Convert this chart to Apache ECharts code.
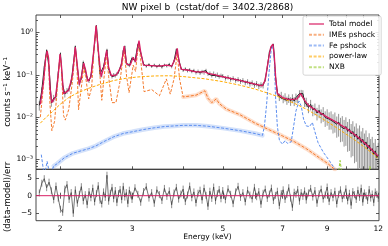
<!DOCTYPE html>
<html><head><meta charset="utf-8">
<script src="https://cdn.jsdelivr.net/npm/echarts@6/dist/echarts.min.js"></script>
<style>html,body{margin:0;padding:0;background:#fff}#c{width:388px;height:246px}</style>
</head><body><div id="c"></div>
<script>
// ---------- data ----------
const titleText = 'NW pixel b  (cstat/dof = 3402.3/2868)';
const xTickVals = [2,3,4,5,6,7,8,9,10,11,12];
const xLabelVals = [2,3,5,7,9,12];
const yMajorVals = [0.001,0.01,0.1,1];
const yMinorVals = [6e-4,7e-4,8e-4,9e-4,2e-3,3e-3,4e-3,5e-3,6e-3,7e-3,8e-3,9e-3,0.02,0.03,0.04,0.05,0.06,0.07,0.08,0.09,0.2,0.3,0.4,0.5,0.6,0.7,0.8,0.9,2];
const rTickVals = [-5,0,5];
const legendNames = ['Total model','IMEs pshock','Fe pshock','power-law','NXB'];

const totalE = [1.79,1.82,1.845,1.86,1.875,1.89,1.91,1.95,1.98,2.00,2.015,2.04,2.10,2.145,2.18,2.20,2.23,2.26,2.285,2.31,2.34,2.38,2.42,2.45,2.48,2.52,2.56,2.60,2.63,2.67,2.75,2.82,2.87,2.91,2.97,3.02,3.06,3.09,3.12,3.15,3.20,3.35,3.50,3.64,3.68,3.75,3.83,3.87,3.91,3.96,4.10,4.30,4.52,4.60,4.70,4.80,5.0,5.5,6.0,6.25,6.35,6.45,6.55,6.63,6.68,6.74,6.80,7.0,7.3,7.6,7.75,7.82,7.90,8.1,8.5,9.0,9.5,10,10.5,11,11.5,12];
const totalV = [0.020,0.06,0.25,0.37,0.25,0.05,0.022,0.030,0.10,0.31,0.18,0.036,0.043,0.10,0.45,0.20,0.058,0.10,0.19,0.13,0.07,0.09,0.40,1.45,0.40,0.09,0.15,0.38,0.15,0.095,0.10,0.16,0.48,0.18,0.17,0.26,0.20,0.40,0.64,0.35,0.17,0.165,0.16,0.17,0.175,0.16,0.25,0.42,0.20,0.135,0.13,0.118,0.118,0.108,0.104,0.100,0.090,0.074,0.060,0.055,0.075,0.20,0.45,0.53,0.30,0.08,0.036,0.029,0.026,0.027,0.036,0.040,0.026,0.019,0.014,0.0100,0.0075,0.0055,0.0039,0.0027,0.0018,0.0012];

const imesE = [1.79,1.82,1.845,1.86,1.875,1.89,1.91,1.94,1.98,2.00,2.015,2.04,2.06,2.10,2.145,2.18,2.20,2.22,2.24,2.26,2.285,2.31,2.35,2.39,2.42,2.45,2.48,2.53,2.56,2.60,2.63,2.68,2.74,2.80,2.87,2.91,2.95,3.02,3.06,3.09,3.12,3.15,3.21,3.35,3.50,3.64,3.72,3.80,3.87,3.92,4.00,4.30,4.52,4.60,4.70,4.82,4.90,5.10,5.5,6.0,6.5,7.0,7.5,8.0,8.5,9.0,9.4];
const imesV = [0.010,0.05,0.23,0.35,0.23,0.02,0.0048,0.008,0.09,0.29,0.15,0.011,0.0085,0.015,0.07,0.41,0.15,0.015,0.030,0.06,0.15,0.09,0.027,0.05,0.35,1.38,0.35,0.025,0.08,0.31,0.09,0.022,0.022,0.065,0.40,0.09,0.038,0.17,0.12,0.30,0.55,0.22,0.040,0.045,0.032,0.080,0.035,0.08,0.33,0.08,0.030,0.033,0.042,0.028,0.022,0.027,0.021,0.0155,0.0115,0.0072,0.0050,0.0036,0.0026,0.0018,0.0012,0.00082,0.00058];

const feE = [1.80,1.83,1.86,1.89,1.93,1.97,2.05,2.15,2.25,2.35,2.45,2.55,2.70,2.85,3.00,3.20,3.40,3.60,3.80,4.00,4.30,4.60,5.00,5.50,6.00,6.25,6.32,6.40,6.48,6.56,6.63,6.68,6.73,6.80,6.88,7.00,7.10,7.20,7.35,7.45,7.55,7.68,7.78,7.88,8.00,8.15,8.28,8.40,8.55,8.80,9.10,9.40];
const feV = [0.0013,0.0004,0.0009,0.0004,0.0007,0.0008,0.0011,0.0014,0.0016,0.0018,0.0021,0.0026,0.0034,0.0041,0.0045,0.0051,0.0056,0.0060,0.0062,0.0064,0.0064,0.0061,0.0055,0.0048,0.0041,0.0037,0.006,0.02,0.10,0.35,0.50,0.25,0.03,0.006,0.0028,0.0023,0.0028,0.0024,0.0026,0.006,0.014,0.024,0.018,0.009,0.0062,0.0060,0.0075,0.0045,0.0025,0.0015,0.00095,0.0006];

const plE = [1.79,1.8,1.85,1.9,2.0,2.1,2.2,2.35,2.5,2.7,2.9,3.1,3.4,3.7,4.0,4.5,5.0,5.5,6.0,6.5,7.0,7.5,8.0,8.5,9.0,9.5,10,10.5,11,11.5,12];
const plV = [0.0072,0.0076,0.0100,0.0125,0.020,0.029,0.037,0.048,0.059,0.073,0.083,0.089,0.094,0.095,0.091,0.081,0.069,0.057,0.046,0.036,0.028,0.021,0.0155,0.011,0.0078,0.0056,0.0040,0.0029,0.0021,0.0015,0.00105];

const nxbE = [8.0,9.55,9.62,9.68,9.74,9.80,11.30,11.40,11.45,11.50,11.60,12.0];
const nxbV = [0.0002,0.00025,0.0006,0.00095,0.0006,0.00025,0.0002,0.0005,0.00068,0.0005,0.0002,0.0002];

const binE = [1.780,1.805,1.830,1.855,1.880,1.905,1.930,1.955,1.980,2.005,2.030,2.055,2.080,2.105,2.130,2.155,2.180,2.205,2.230,2.255,2.280,2.305,2.330,2.355,2.380,2.405,2.430,2.455,2.480,2.505,2.530,2.555,2.580,2.605,2.630,2.655,2.680,2.705,2.730,2.755,2.780,2.805,2.830,2.855,2.880,2.905,2.930,2.955,2.980,
 3.00,3.05,3.10,3.15,3.20,3.25,3.30,3.35,3.40,3.45,3.50,3.55,3.60,3.65,3.70,3.75,3.80,3.85,3.90,3.95,4.00,4.05,4.10,4.15,4.20,4.25,4.30,4.35,4.40,4.45,4.50,4.55,4.60,4.65,4.70,4.75,4.80,4.85,4.90,4.95,
 5.000,5.075,5.150,5.225,5.300,5.375,5.450,5.525,5.600,5.675,5.750,5.825,5.900,5.975,6.050,6.125,6.200,6.275,6.350,6.425,6.500,6.575,6.650,6.725,6.800,6.875,6.950,7.025,7.100,7.175,7.250,7.325,7.400,7.475,7.550,7.625,7.700,7.775,7.850,7.925,
 8.0,8.1,8.2,8.3,8.4,8.5,8.6,8.7,8.8,8.9,9.0,9.1,9.2,9.3,9.4,9.5,9.6,9.7,9.8,9.9,10.0,10.1,10.2,10.3,10.4,10.5,10.6,10.7,10.8,10.9,11.0,11.1,11.2,11.3,11.4,11.5,11.6,11.7,11.8,11.9,12.0];
const dataV = [0.019,0.043,0.15,0.38,0.15,0.022,0.028,0.030,0.11,0.32,0.058,0.035,0.042,0.047,0.068,0.17,0.47,0.15,0.061,0.085,0.20,0.13,0.083,0.072,0.094,0.21,0.57,1.45,0.38,0.105,0.096,0.155,0.25,0.39,0.14,0.105,0.091,0.10,0.096,0.105,0.115,0.145,0.19,0.37,0.47,0.19,0.175,0.165,0.21,
 0.25,0.21,0.52,0.33,0.18,0.16,0.175,0.158,0.17,0.155,0.168,0.152,0.17,0.162,0.178,0.155,0.21,0.40,0.24,0.145,0.128,0.138,0.125,0.132,0.12,0.127,0.113,0.121,0.11,0.119,0.112,0.126,0.105,0.109,0.097,0.108,0.096,0.102,0.091,0.096,
 0.094,0.083,0.088,0.078,0.083,0.074,0.078,0.070,0.074,0.065,0.069,0.061,0.065,0.057,0.062,0.054,0.058,0.056,0.078,0.15,0.34,0.46,0.52,0.095,0.038,0.030,0.033,0.027,0.030,0.025,0.028,0.024,0.028,0.024,0.029,0.027,0.036,0.037,0.036,0.023,
 0.023,0.017,0.020,0.015,0.016,0.0125,0.0145,0.0112,0.0125,0.0098,0.0108,0.0090,0.0094,0.0079,0.0086,0.0068,0.0077,0.0061,0.0066,0.0053,0.0060,0.0046,0.0053,0.0040,0.0046,0.0034,0.0040,0.0030,0.0035,0.0025,0.0030,0.0022,0.0026,0.0018,0.0022,0.0016,0.0018,0.0013,0.0016,0.0011,0.0013];
const dataErr = [0.25,0.18,0.10,0.06,0.09,0.2,0.2,0.18,0.1,0.06,0.14,0.17,0.16,0.15,0.12,0.09,0.05,0.09,0.13,0.11,0.08,0.09,0.11,0.11,0.10,0.07,0.05,0.03,0.05,0.10,0.10,0.08,0.07,0.06,0.08,0.10,0.10,0.10,0.10,0.10,0.09,0.08,0.07,0.05,0.05,0.07,0.08,0.08,0.07,
 0.07,0.07,0.05,0.06,0.08,0.08,0.08,0.08,0.08,0.08,0.08,0.08,0.08,0.08,0.08,0.08,0.07,0.05,0.07,0.09,0.09,0.09,0.09,0.09,0.09,0.09,0.10,0.10,0.10,0.10,0.10,0.10,0.10,0.10,0.11,0.11,0.11,0.11,0.11,0.11,
 0.11,0.12,0.12,0.12,0.12,0.12,0.13,0.13,0.13,0.13,0.14,0.14,0.14,0.14,0.15,0.15,0.15,0.15,0.13,0.08,0.06,0.05,0.05,0.09,0.18,0.2,0.2,0.21,0.22,0.22,0.23,0.23,0.24,0.24,0.24,0.22,0.2,0.19,0.2,0.24,
 0.25,0.27,0.28,0.3,0.31,0.33,0.35,0.36,0.38,0.4,0.42,0.44,0.46,0.48,0.5,0.52,0.55,0.58,0.6,0.62,0.65,0.67,0.7,0.72,0.74,0.76,0.78,0.8,0.82,0.84,0.85,0.86,0.87,0.88,0.89,0.9,0.9,0.9,0.9,0.9,0.9];
const resid = [0.8,3.6,4.9,2.3,3.9,1.4,-1.2,2.8,-0.7,-3.9,-4.8,1.9,3.2,-1.1,0.9,-5.1,1.7,-2.2,0.4,2.6,-1.5,0.3,-2.6,1.2,-0.6,2.2,-1.8,0.6,2.9,-1.3,-2.4,1.1,-0.5,5.9,-1.6,0.7,2.4,-0.9,1.5,-2.0,0.6,1.8,-1.2,2.7,-0.4,0.9,-2.3,1.6,0.2,
 -1.1,2.3,0.4,-1.9,1.2,2.6,-0.7,0.9,-2.2,1.7,0.3,-1.4,2.1,-0.2,1.4,-2.6,0.8,2.4,-1.0,0.5,1.9,-1.7,0.2,2.8,-0.6,1.1,-2.1,0.7,1.6,-1.3,2.2,0.1,-3.1,1.3,-0.8,2.5,-1.5,0.6,1.8,-0.9,
 1.5,-1.2,2.0,0.4,-2.3,1.1,2.7,-0.5,0.9,-1.8,1.6,0.2,-1.0,2.4,-0.3,1.2,-2.5,0.7,1.9,-0.8,0.5,2.2,-1.4,0.1,1.3,-2.9,0.6,1.7,-1.1,0.3,2.3,-0.7,-3.4,1.0,0.4,1.8,-1.6,0.9,-0.2,1.4,
 -1.3,0.8,2.1,-0.4,1.5,-2.2,0.6,1.9,-1.0,0.2,2.5,-1.7,0.9,-0.6,1.3,-2.4,0.4,1.7,-0.9,0.1,2.0,-1.5,0.7,-2.8,1.2,0.3,-1.1,1.6,-0.5,2.2,-1.9,0.8,0.0,-1.4,1.8,-0.7,0.5,-2.0,1.1,0.4,-0.8];

// ---------- chart ----------
const FONT = 'DejaVu Sans';
const X0 = 1.747, X1 = 12.05, Y0 = 5.86e-4, Y1 = 2.59, R0 = -7.2, R1 = 7.6;
const zip = (a, b) => a.map((v, i) => [v, b[i]]);
const C = {total:'#d81e64', imes:'#f47a2c', imesBand:'#fbb48a', fe:'#5b8def', feBand:'#a8c3f6', pl:'#ffab00', nxb:'#9acd32'};
const supMap = {'-3':'10⁻³','-2':'10⁻²','-1':'10⁻¹','0':'10⁰'};
const tickStyle = {color:'#333', width:0.8};

const chart = echarts.init(document.getElementById('c'), null, {renderer:'canvas'});

function xAx(grid, pos, labels) {
  return {gridIndex:grid, type:'log', position:pos, min:X0, max:X1,
    splitLine:{show:false}, axisLine:{show:false},
    axisTick:{show:true, inside:true, length:3, customValues:xTickVals, lineStyle:tickStyle},
    axisLabel:{show:labels, customValues:xLabelVals, fontSize:7.5, fontFamily:FONT, color:'#000', margin:4}};
}
function yLog(grid, pos, vals, len, labels) {
  return {gridIndex:grid, type:'log', position:pos, min:Y0, max:Y1,
    splitLine:{show:false}, axisLine:{show:false},
    axisTick:{show:true, inside:true, length:len, customValues:vals, lineStyle:tickStyle},
    axisLabel:{show:labels, customValues:vals, fontSize:7.5, fontFamily:FONT, color:'#000', margin:3,
      formatter:v => supMap[String(Math.round(Math.log10(v)))] || ''}};
}
function yRes(grid, pos, labels) {
  return {gridIndex:grid, type:'value', position:pos, min:R0, max:R1,
    splitLine:{show:false}, axisLine:{show:false},
    axisTick:{show:true, inside:true, length:3, customValues:rTickVals, lineStyle:tickStyle},
    axisLabel:{show:labels, customValues:rTickVals, fontSize:7.5, fontFamily:FONT, color:'#000', margin:4,
      formatter:v => v < 0 ? '\u2212' + Math.abs(v) : String(v)}};
}

const errBars = (data, grid, color, lw, op) => ({
  type:'custom', xAxisIndex:grid === 0 ? 0 : 2, yAxisIndex:grid === 0 ? 0 : 2, clip:true, silent:true,
  data:data, encode:{x:0, y:1},
  renderItem:(params, api) => {
    const e = api.value(0), y = api.value(1), f = api.value(2);
    let lo, hi;
    if (grid === 0) { hi = y * (1 + f); lo = Math.max(y * (1 - f), 1e-6); }
    else { hi = y + f; lo = y - f; }
    const p1 = api.coord([e, hi]), p2 = api.coord([e, lo]);
    return {type:'line', shape:{x1:p1[0], y1:p1[1], x2:p2[0], y2:p2[1]},
      style:{stroke:color, lineWidth:lw, opacity:op}};
  }
});

const mainLine = (name, data, color, width, dashed, extra) => Object.assign({
  name:name, type:'line', xAxisIndex:0, yAxisIndex:0, data:data, symbol:'none', showSymbol:false,
  clip:true, silent:true,
  lineStyle:{color:color, width:width, type:dashed ? [3, 1.6] : 'solid'}, itemStyle:{color:color}
}, extra || {});

const option = {
  animation:false,
  backgroundColor:'#fff',
  textStyle:{fontFamily:FONT},
  grid:[
    {left:36, top:15, width:343, height:154.3, show:true, borderColor:'#333', borderWidth:0.9, backgroundColor:'transparent'},
    {left:36, top:169.3, width:343, height:51.4, show:true, borderColor:'#333', borderWidth:0.9, backgroundColor:'transparent'},
    {left:36, top:15, width:343, height:154.3, show:false}
  ],
  xAxis:[xAx(0,'bottom',false), xAx(0,'top',false), xAx(1,'bottom',true), xAx(1,'top',false),
         {gridIndex:2, type:'value', show:false, min:0, max:1}],
  yAxis:[yLog(0,'left',yMajorVals,3.5,true), yLog(0,'right',yMajorVals,3.5,false),
         yRes(1,'left',true), yRes(1,'right',false),
         yLog(2,'left',yMinorVals,2,false), yLog(2,'right',yMinorVals,2,false)],
  legend:{
    orient:'vertical', left:303, top:16, itemWidth:15, itemHeight:8, itemGap:2.8,
    padding:[4,6,4,5], selectedMode:false,
    backgroundColor:'rgba(255,255,255,0.85)', borderColor:'#cccccc', borderWidth:0.8, borderRadius:2,
    textStyle:{fontSize:7.5, fontFamily:FONT, color:'#000'},
    data:legendNames.map(n => ({name:n, lineStyle:{opacity:0.6}, itemStyle:{color:'transparent', borderWidth:0, opacity:0}}))
  },
  series:[
    // uncertainty bands
    mainLine('imesBand', zip(imesE, imesV).filter(p => p[0] >= 4.0), C.imesBand, 4, false, {lineStyle:{color:C.imesBand, width:4, opacity:0.45, cap:'round'}}),
    mainLine('feBand', zip(feE, feV).filter(p => p[0] >= 1.93 && p[0] <= 6.25), C.feBand, 4.5, false, {lineStyle:{color:C.feBand, width:4.5, opacity:0.5, cap:'round'}}),
    // data
    errBars(binE.map((e, i) => [e, dataV[i], dataErr[i]]), 0, '#444444', 0.9, 0.65),
    mainLine('data', zip(binE, dataV), '#222222', 1, false),
    // model components
    mainLine('IMEs pshock', zip(imesE, imesV), C.imes, 1, true),
    mainLine('Fe pshock', zip(feE, feV), C.fe, 1, true),
    mainLine('power-law', zip(plE, plV), C.pl, 1, true),
    mainLine('NXB', zip(nxbE, nxbV), C.nxb, 1, true),
    mainLine('Total model', zip(totalE, totalV), C.total, 1.3, false),
    // residuals
    errBars(binE.map((e, i) => [e, resid[i], 1]), 1, '#555555', 0.9, 0.75),
    {type:'line', xAxisIndex:2, yAxisIndex:2, data:zip(binE, resid), symbol:'none', silent:true, clip:true,
     lineStyle:{color:'#3a3a3a', width:0.7}},
    {type:'line', xAxisIndex:2, yAxisIndex:2, data:[[X0,0],[X1,0]], symbol:'none', silent:true,
     lineStyle:{color:C.total, width:1}}
  ],
  graphic:[
    {type:'text', x:207.5, y:7.5, style:{text:titleText, font:'9px "DejaVu Sans"', fill:'#000', align:'center', verticalAlign:'middle', textAlign:'center', textVerticalAlign:'middle'}},
    {type:'text', x:207.5, y:237.5, style:{text:'Energy (keV)', font:'7.5px "DejaVu Sans"', fill:'#000', align:'center', verticalAlign:'middle', textAlign:'center', textVerticalAlign:'middle'}},
    {type:'text', x:8, y:92, rotation:Math.PI/2, style:{text:'counts s⁻¹ keV⁻¹', font:'8.5px "DejaVu Sans"', fill:'#000', align:'center', verticalAlign:'middle', textAlign:'center', textVerticalAlign:'middle'}},
    {type:'text', x:8, y:197, rotation:Math.PI/2, style:{text:'(data-model)/err', font:'8.5px "DejaVu Sans"', fill:'#000', align:'center', verticalAlign:'middle', textAlign:'center', textVerticalAlign:'middle'}}
  ]
};
chart.setOption(option);
</script></body></html>
